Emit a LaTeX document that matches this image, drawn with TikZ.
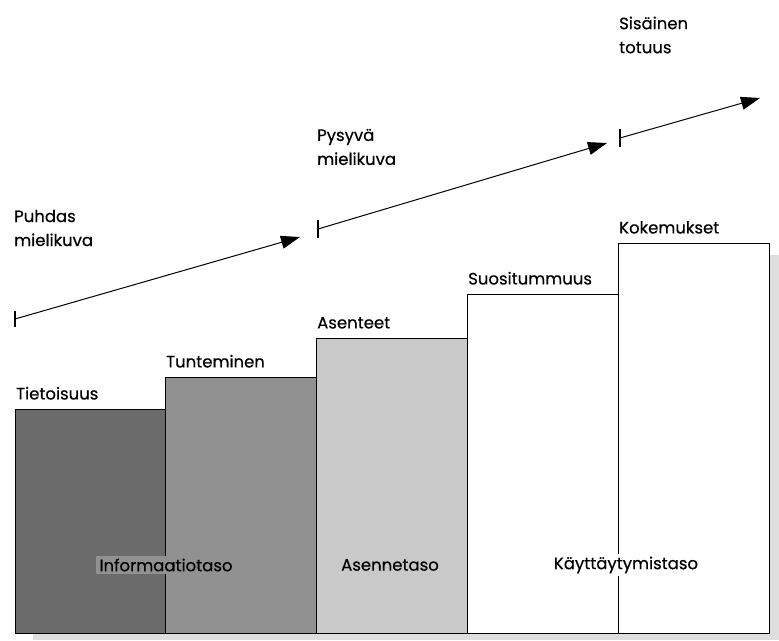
\documentclass[tikz,border=0pt]{standalone}
\usepackage{fontspec}
\setmainfont{Poppins}[UprightFeatures={FakeBold=0.5}]
\usetikzlibrary{arrows.meta,positioning}
\definecolor{darkbar}{gray}{0.42}
\definecolor{midbar}{gray}{0.57}
\definecolor{lightbar}{gray}{0.79}
\definecolor{shadowgray}{gray}{0.87}
\tikzset{
  bar/.style={draw=black, line width=1.2pt, anchor=south west, inner sep=0pt, minimum width=151pt},
  steplabel/.style={anchor=south west, inner sep=1pt, font=\fontsize{16.5}{19}\selectfont},
  levellabel/.style={inner sep=3pt, font=\fontsize{16.5}{19}\selectfont},
  imagelabel/.style={anchor=west, align=left, inner sep=0pt, font=\fontsize{16.5}{24}\selectfont},
  growth/.style={line width=1pt, -{Triangle[length=19pt,width=13pt]}},
  tick/.style={line width=1.4pt}
}
\begin{document}
\begin{tikzpicture}[x=1pt,y=-1pt]
\useasboundingbox (0,0) rectangle (779,640);
% shadow under and right of the steps
\fill[shadowgray] (33,630) rectangle (779,640);
\fill[shadowgray] (765,255) rectangle (779,640);
% the steps
\node[bar, fill=darkbar, minimum height=224pt] (b1) at (15,634) {};
\node[bar, fill=midbar, minimum height=256pt] (b2) at (165,634) {};
\node[bar, fill=lightbar, minimum height=295pt] (b3) at (316,634) {};
\node[bar, fill=white, minimum height=339pt] (b4) at (467,634) {};
\node[bar, fill=white, minimum height=390pt] (b5) at (618,634) {};
% step names
\node[steplabel, above right=8pt and 0pt of b1.north west] (l1) {Tietoisuus};
\node[steplabel, above right=8pt and 0pt of b2.north west] (l2) {Tunteminen};
\node[steplabel, above right=8pt and 0pt of b3.north west] (l3) {Asenteet};
\node[steplabel, above right=8pt and 0pt of b4.north west] (l4) {Suositummuus};
\node[steplabel, above right=8pt and 0pt of b5.north west] (l5) {Kokemukset};
% levels
\node[levellabel, fill=midbar] (info) at (166,565) {Informaatiotaso};
\node[levellabel] (asenne) at (390,565) {Asennetaso};
\node[levellabel, fill=white] (kaytto) at (626,565) {Käyttäytymistaso};
% images
\coordinate (s1) at (15,319);
\coordinate (e1) at (300,237);
\coordinate (s2) at (318,229);
\coordinate (e2) at (607,143);
\coordinate (s3) at (620,138);
\coordinate (e3) at (760,98);
\draw[tick] ([yshift=-8pt]s1) -- ([yshift=8pt]s1);
\draw[tick] ([yshift=-9pt]s2) -- ([yshift=9pt]s2);
\draw[tick] ([yshift=-9pt]s3) -- ([yshift=9pt]s3);
\draw[growth] (s1) -- (e1);
\draw[growth] (s2) -- (e2);
\draw[growth] (s3) -- (e3);
\node[imagelabel] (m1) at (14,228) {Puhdas\\mielikuva};
\node[imagelabel] (m2) at (317,147) {Pysyvä\\mielikuva};
\node[imagelabel] (m3) at (619,35) {Sisäinen\\totuus};
\end{tikzpicture}
\end{document}
